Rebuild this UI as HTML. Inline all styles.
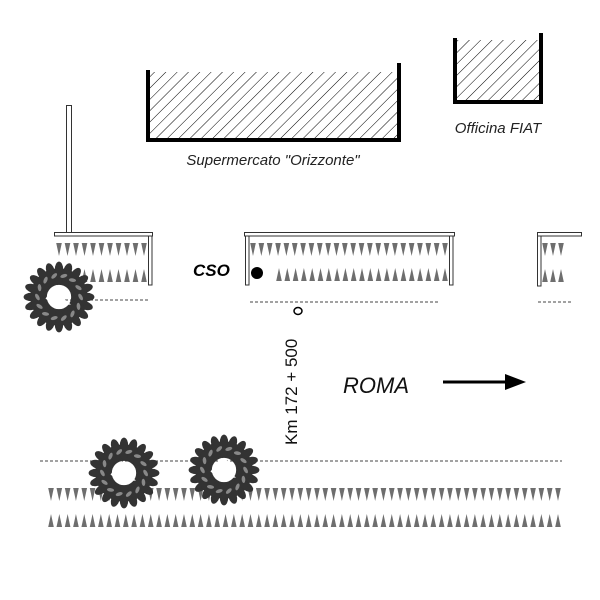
<!DOCTYPE html>
<html><head><meta charset="utf-8"><style>body{margin:0;background:#fff}svg{display:block}</style></head>
<body>
<svg id="s" width="600" height="600" viewBox="0 0 600 600" xmlns="http://www.w3.org/2000/svg" font-family="Liberation Sans, sans-serif">
<defs>
<pattern id="h" width="8" height="8" patternUnits="userSpaceOnUse" patternTransform="rotate(45)">
<line x1="0" y1="0" x2="0" y2="8" stroke="#000" stroke-width="1"/>
</pattern>
</defs>
<rect x="150" y="72" width="247" height="66" fill="url(#h)"/>
<path d="M148 70 V140 H399 V63" fill="none" stroke="#000" stroke-width="4"/>
<rect x="457" y="40" width="82" height="60" fill="url(#h)"/>
<path d="M455 38 V102 H541 V33" fill="none" stroke="#000" stroke-width="4"/>
<text x="273" y="165" font-size="15" font-style="italic" text-anchor="middle" fill="#222">Supermercato "Orizzonte"</text>
<text x="498" y="133" font-size="15" font-style="italic" text-anchor="middle" fill="#222">Officina FIAT</text>
<rect x="66.5" y="105.5" width="5" height="127" fill="#fff" stroke="#333"/>
<g fill="#fff" stroke="#333">
<rect x="54.5" y="232.5" width="98" height="3.5"/><rect x="148.5" y="236" width="3.5" height="49"/>
<rect x="244.5" y="232.5" width="210" height="3.5"/><rect x="245.5" y="236" width="3.5" height="49"/><rect x="449.5" y="236" width="3.5" height="49"/>
<rect x="537.5" y="232.5" width="44" height="3.5"/><rect x="537.5" y="236" width="3.5" height="50"/>
</g>
<g stroke="#444" stroke-dasharray="3,2" stroke-width="1">
<line x1="60" y1="300" x2="148" y2="300"/><line x1="250" y1="302" x2="440" y2="302"/><line x1="538" y1="302" x2="572" y2="302"/><line x1="40" y1="461" x2="562" y2="461"/>
</g>
<g id="tri" fill="#6e6e6e"></g>
<text x="193" y="276" font-size="17" font-weight="bold" font-style="italic">CSO</text>
<circle cx="257" cy="273" r="6" fill="#000"/>
<ellipse cx="298" cy="311" rx="4" ry="3.5" fill="none" stroke="#000" stroke-width="1.5"/>
<text transform="translate(297,445) rotate(-90)" font-size="17" fill="#111">Km 172 + 500</text>
<text x="343" y="393" font-size="22" font-style="italic" fill="#111">ROMA</text>
<line x1="443" y1="382" x2="508" y2="382" stroke="#000" stroke-width="3"/>
<path d="M505 374 L526 382 L505 390 Z" fill="#000"/>
<g id="trees"></g>
</svg>
<script>
var t=document.getElementById('tri'),h='';
function down(x0,x1,y,n){var d=(x1-x0)/(n-1);for(var i=0;i<n;i++){var x=x0+i*d;h+='<path d="M'+(x-2.8)+' '+y+' H'+(x+2.8)+' L'+x+' '+(y+13)+'Z"/>';}}
function up(x0,x1,y,n){var d=(x1-x0)/(n-1);for(var i=0;i<n;i++){var x=x0+i*d;h+='<path d="M'+(x-2.8)+' '+(y+13)+' H'+(x+2.8)+' L'+x+' '+y+'Z"/>';}}
down(59,144,243,11);up(59,144,269,11);
down(253,445,243,24);up(279,445,268,21);
down(545,561,243,3);up(545,561,269,3);
down(51,558,488,62);up(51,558,514,62);
t.innerHTML=h;
var g=document.getElementById('trees'),s='';
function tree(cx,cy,R){
 s+='<circle cx="'+cx+'" cy="'+cy+'" r="'+(R*0.68)+'" fill="none" stroke="#333" stroke-width="'+(R*0.55)+'"/>';
 for(var k=0;k<2;k++){var r=k?R*0.7:R*0.92,n=k?14:20;
 for(var i=0;i<n;i++){var a=i*2*Math.PI/n+k*0.2;var x=cx+r*Math.cos(a),y=cy+r*Math.sin(a);
 s+='<ellipse cx="'+x+'" cy="'+y+'" rx="'+(R*0.26)+'" ry="'+(R*0.14)+'" transform="rotate('+(a*180/Math.PI)+' '+x+' '+y+')" fill="#333"/>';}}
 for(var i=0;i<14;i++){var a=i*2*Math.PI/14;var x=cx+R*0.72*Math.cos(a),y=cy+R*0.72*Math.sin(a);
 s+='<ellipse cx="'+x+'" cy="'+y+'" rx="'+(R*0.12)+'" ry="'+(R*0.06)+'" transform="rotate('+(a*180/Math.PI+60)+' '+x+' '+y+')" fill="#888"/>';}
 s+='<path d="M'+(cx-R*0.45)+' '+(cy+R*0.05)+' L'+(cx-R*0.1)+' '+(cy-R*0.4)+' L'+(cx+R*0.35)+' '+(cy-R*0.2)+' L'+(cx+R*0.15)+' '+(cy+R*0.05)+' L'+(cx+R*0.4)+' '+(cy+R*0.25)+' L'+(cx-R*0.15)+' '+(cy+R*0.3)+'Z" fill="#fff"/>';
}
tree(59,297,30);tree(124,473,30);tree(224,470,30);
g.innerHTML=s;
</script>
</body></html>
